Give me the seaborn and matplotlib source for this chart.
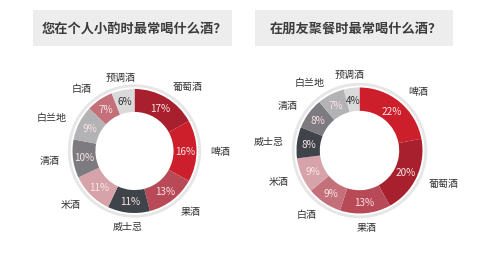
import matplotlib
matplotlib.use("Agg")
import matplotlib.pyplot as plt
import seaborn as sns
from matplotlib.patches import Rectangle

sns.set_theme(style="white")
plt.rcParams['font.family'] = ['Noto Sans CJK SC', 'DejaVu Sans']

title_left = "您在个人小酌时最常喝什么酒？"
title_right = "在朋友聚餐时最常喝什么酒？"

cats_left = ["葡萄酒", "啤酒", "果酒", "威士忌", "米酒", "清酒", "白兰地", "白酒", "预调酒"]
vals_left = [17, 16, 13, 11, 11, 10, 9, 7, 6]

cats_right = ["啤酒", "葡萄酒", "果酒", "白酒", "米酒", "威士忌", "清酒", "白兰地", "预调酒"]
vals_right = [22, 20, 13, 9, 9, 8, 8, 7, 4]

color_map = {
    "葡萄酒": "#a8202e",
    "啤酒": "#cc1f2b",
    "果酒": "#b84a58",
    "威士忌": "#3f444b",
    "米酒": "#d6a3aa",
    "清酒": "#7d7b80",
    "白兰地": "#b3b2b4",
    "白酒": "#c4707a",
    "预调酒": "#dadada",
}
dark_text = {"预调酒"}

W, H = 501, 255
fig = plt.figure(figsize=(W / 100, H / 100), dpi=100)
fig.patch.set_facecolor("white")


def box_title(x0, x1, y0, y1, text):
    fig.patches.append(Rectangle((x0 / W, 1 - y1 / H), (x1 - x0) / W, (y1 - y0) / H,
                                 transform=fig.transFigure, facecolor="#ededed",
                                 edgecolor="none", zorder=0))
    fig.text((x0 + x1) / 2 / W + 0.004, 1 - (y0 + y1) / 2 / H, text, ha="center", va="center",
             fontsize=9.5, fontweight="bold", color="#3c3c3c")


box_title(33, 232, 11, 47, title_left)
box_title(255, 453, 11, 47, title_right)


def donut(cx, cy, R, cats, vals):
    half_w, half_h = 110, 90
    ax = fig.add_axes([(cx - half_w) / W, 1 - (cy + half_h) / H, 2 * half_w / W, 2 * half_h / H])
    cols = [color_map[c] for c in cats]
    # outer light ring
    ax.pie([1], radius=1.075, colors=["#e6e6e6"], startangle=90,
           wedgeprops=dict(width=0.045, edgecolor="none"))
    wedges, texts, autotexts = ax.pie(
        vals, labels=cats, colors=cols, startangle=90, counterclock=False,
        radius=1.0, labeldistance=1.22, pctdistance=0.815,
        autopct=lambda p: f"{p:.0f}%",
        wedgeprops=dict(width=0.37, edgecolor="none"),
        textprops=dict(fontsize=7.2, color="#333333"))
    for t in texts:
        x, _ = t.get_position()
        if abs(x) < 0.3:
            t.set_ha("center")
    for c, t in zip(cats, autotexts):
        t.set_color("#333333" if c in dark_text else "#fbe3e5")
        t.set_fontsize(7.2)
    ax.set_xlim(-half_w / R, half_w / R)
    ax.set_ylim(-half_h / R, half_h / R)
    ax.set_aspect("equal")
    ax.axis("off")


donut(134.5, 152, 62, cats_left, vals_left)
donut(359.5, 151.5, 63, cats_right, vals_right)

fig.savefig("out.png", dpi=100)
